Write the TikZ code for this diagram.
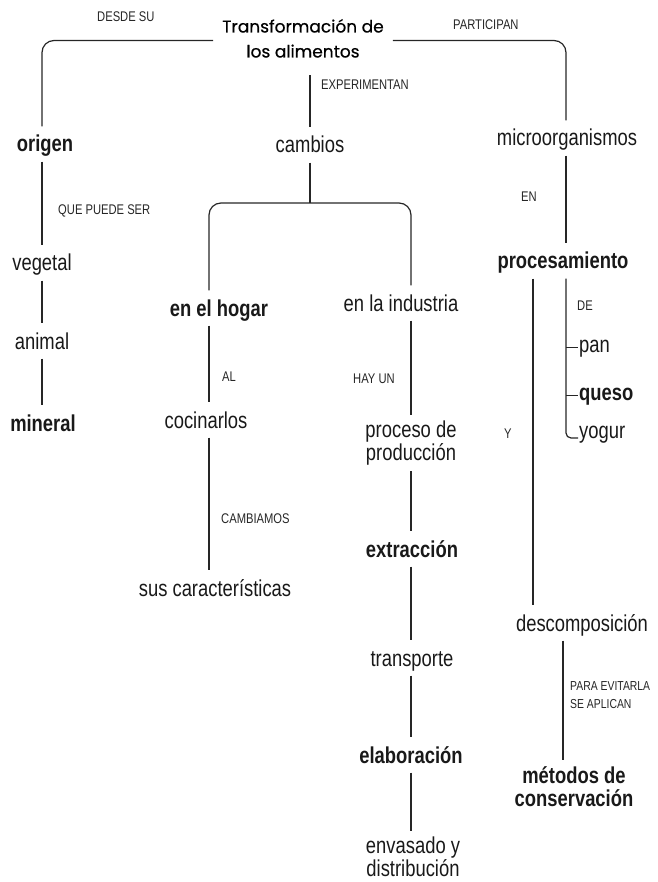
\documentclass[tikz,border=0pt]{standalone}
\usepackage{fontspec}
\setmainfont{Liberation Sans}[FakeStretch=0.8]
\newfontfamily\titlefont{Poppins}[FakeBold=0.6]
\begin{document}
\begin{tikzpicture}[x=1pt,y=-1pt,
  conn/.style={draw=black!85, line width=1.2pt},
  nd/.style={inner xsep=0pt, inner ysep=4pt, text height=21.5pt, text depth=5.5pt, anchor=base, text=black!90, font=\fontsize{23}{23}\selectfont},
  ndb/.style={nd, font=\fontsize{23}{23}\selectfont\bfseries},
  ml/.style={inner xsep=0pt, inner ysep=6pt, align=center, anchor=center, text=black!90, font=\fontsize{23}{23}\selectfont},
  mlb/.style={ml, font=\fontsize{23}{23}\selectfont\bfseries},
  leaf/.style={inner xsep=1pt, inner ysep=0pt, text height=13pt, text depth=4pt, anchor=base west, text=black!90, font=\fontsize{23}{23}\selectfont},
  leafb/.style={leaf, font=\fontsize{23}{23}\selectfont\bfseries},
  lbl/.style={inner sep=0pt, anchor=west, align=left, text=black!85, font=\fontsize{14}{18}\selectfont},
  lbls/.style={lbl, font=\fontsize{13}{18}\selectfont},
  ttl/.style={inner xsep=9pt, inner ysep=13pt, align=center, anchor=center, font=\titlefont\fontsize{17}{25}\selectfont}
]
\useasboundingbox (0,0) rectangle (657,882);

% column x positions
\coordinate (cL) at (42,0);
\coordinate (cB) at (209,0);
\coordinate (cC) at (411,0);
\coordinate (cY) at (533,0);
\coordinate (cR) at (566,0);
\coordinate (cM) at (563,0);
\coordinate (j) at (310,203);

% title
\node[ttl] (title) at (303,40.5) {\vphantom{dp}Transformación de\\\vphantom{dp}los alimentos};

% left column
\node[ndb] (origen) at (45,152) {origen};
\node[nd] (vegetal) at (42,271) {vegetal};
\node[nd] (animal) at (42,349) {animal};
\node[ndb] (mineral) at (43,431) {mineral};

% middle
\node[nd] (cambios) at (310,153) {cambios};
\node[ndb] (hogar) at (219,316) {en el hogar};
\node[nd] (coc) at (206,428) {cocinarlos};
\node[nd] (sus) at (215,596) {sus características};
\node[nd] (industria) at (401,311) {en la industria};
\node[ml] (proceso) at (411,443) {\vphantom{dp}proceso de\\\vphantom{dp}producción};
\node[ndb] (extr) at (412,557) {extracción};
\node[nd] (transp) at (412,666) {transporte};
\node[ndb] (elab) at (411,763) {elaboración};
\node[ml] (envas) at (413,859.5) {\vphantom{dp}envasado y\\\vphantom{dp}distribución};

% right
\node[nd] (micro) at (567,146) {microorganismos};
\node[ndb] (proc) at (563,269) {procesamiento};
\node[leaf] (pan) at (578,352) {pan};
\node[leafb] (queso) at (578,400) {queso};
\node[leaf] (yogur) at (578,438) {yogur};
\node[nd] (desc) at (582,631) {descomposición};
\node[mlb] (metodos) at (574,788.5) {\vphantom{dp}métodos de\\\vphantom{dp}conservación};

% labels
\node[lbl] (l1) at (97,17) {DESDE SU};
\node[lbl] (l2) at (453,25) {PARTICIPAN};
\node[lbl] (l3) at (321,85) {EXPERIMENTAN};
\node[lbl] (l4) at (58,211) {QUE PUEDE SER};
\node[lbl] (l5) at (521,197) {EN};
\node[lbl] (l6) at (222,377) {AL};
\node[lbl] (l7) at (353,379) {HAY UN};
\node[lbl] (l8) at (577,306) {DE};
\node[lbl] (l9) at (504,434) {Y};
\node[lbl] (l10) at (221,519) {CAMBIAMOS};
\node[lbls] (l11) at (570,695) {PARA EVITARLA\\SE APLICAN};

% connectors: top bracket
\draw[conn, rounded corners=12pt] (title.west) -| (origen.north -| cL);
\draw[conn, rounded corners=12pt] (title.east) -| (micro.north -| cR);
\draw[conn] (cambios.north |- title.south) -- (cambios.north);

% left column
\draw[conn] (origen.south -| cL) -- (vegetal.north -| cL);
\draw[conn] (vegetal.south -| cL) -- (animal.north -| cL);
\draw[conn] (animal.south -| cL) -- (mineral.north -| cL);

% cambios branch
\draw[conn] (cambios.south) -- (j);
\draw[conn, rounded corners=12pt] (hogar.north -| cB) |- (j) -| (industria.north -| cC);
\draw[conn] (hogar.south -| cB) -- (coc.north -| cB);
\draw[conn] (coc.south -| cB) -- (sus.north -| cB);
\draw[conn] (industria.south -| cC) -- (proceso.north -| cC);
\draw[conn] (proceso.south -| cC) -- (extr.north -| cC);
\draw[conn] (extr.south -| cC) -- (transp.north -| cC);
\draw[conn] (transp.south -| cC) -- (elab.north -| cC);
\draw[conn] (elab.south -| cC) -- (envas.north -| cC);

% right column
\draw[conn] (micro.south -| cR) -- (proc.north -| cR);
\draw[conn] (proc.south -| cY) -- (desc.north -| cY);
\draw[conn, rounded corners=5pt] (proc.south -| cR) |- (yogur.base west);
\draw[conn] (pan.west -| cR) -- (pan.west);
\draw[conn] (queso.west -| cR) -- (queso.west);
\draw[conn] (desc.south -| cM) -- (metodos.north -| cM);
\end{tikzpicture}
\end{document}
